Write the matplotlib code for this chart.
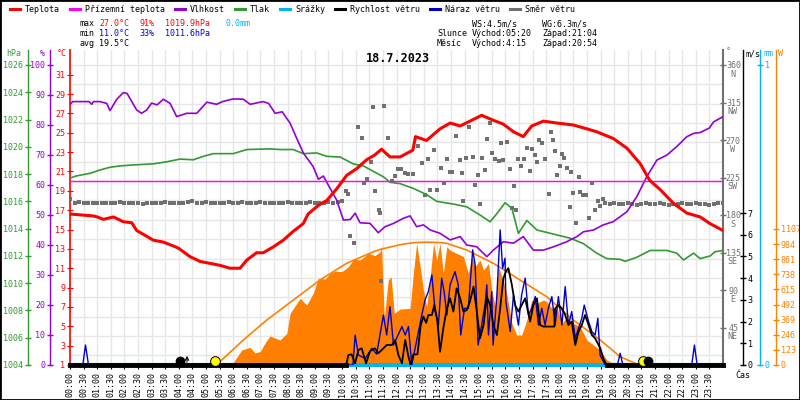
import numpy as np
import matplotlib
matplotlib.use('Agg')
import matplotlib.pyplot as plt
import matplotlib.transforms as mtransforms
from matplotlib.lines import Line2D
from matplotlib.patches import Rectangle

plt.rcParams['font.family'] = ['DejaVu Sans Mono']
plt.rcParams['font.size'] = 6

# ---- data (time in hours) ----
t_h = [0, 0.86, 1.0, 1.23, 1.6, 1.96, 2.27, 2.45, 2.82, 3.06, 3.43, 3.8, 4.0, 4.41, 4.78, 5.15,
       5.51, 5.88, 6.25, 6.5, 6.86, 7.1, 7.47, 7.84, 8.2, 8.57, 8.75, 9.13, 9.44, 9.8, 10.17,
       10.54, 10.9, 11.2, 11.45, 11.76, 12.13, 12.6, 12.7, 13.1, 13.6, 13.97, 14.34, 14.7, 15.13,
       15.55, 15.92, 16.3, 16.66, 16.97, 17.4, 17.9, 18.5, 19.0, 19.36, 19.97, 20.47, 20.96,
       21.3, 21.7, 22.18, 22.67, 23.16, 23.53, 24.0]
temp = [16.6, 16.4, 16.3, 16.05, 16.3, 15.8, 15.7, 14.9, 14.3, 13.9, 13.7, 13.3, 13.05, 12.2,
        11.7, 11.5, 11.3, 11.0, 11.0, 11.85, 12.6, 12.6, 13.2, 13.9, 14.8, 15.6, 16.6, 17.5,
        18.0, 19.2, 20.6, 21.3, 22.2, 22.7, 23.3, 22.5, 22.5, 23.2, 24.6, 24.2, 25.4, 26.0,
        25.7, 26.2, 26.8, 26.3, 25.9, 25.1, 24.6, 25.7, 26.2, 26.0, 25.8, 25.4, 25.1, 24.4,
        23.4, 21.8, 20.1, 19.1, 17.7, 16.7, 16.3, 15.6, 14.9]

tg_h = [0, 24]
tg = [20.0, 20.0]

rh_h = [0, 0.1, 0.7, 0.8, 0.86, 1.1, 1.35, 1.47, 1.72, 1.96, 2.1, 2.45, 2.63, 2.82, 3.0, 3.2,
        3.43, 3.68, 3.92, 4.29, 4.66, 5.03, 5.39, 5.6, 6.0, 6.37, 6.62, 7.1, 7.3, 7.54, 7.8,
        8.09, 8.33, 8.58, 8.94, 9.13, 9.31, 9.56, 9.8, 10.05, 10.3, 10.48, 10.66, 11.03, 11.33,
        11.58, 11.89, 12.25, 12.5, 12.74, 12.99, 13.24, 13.6, 13.97, 14.34, 14.58, 14.95,
        15.32, 15.56, 15.93, 16.3, 16.66, 17.03, 17.4, 17.77, 18.26, 18.63, 18.87, 19.24,
        19.6, 19.97, 20.47, 20.83, 21.2, 21.57, 21.94, 22.3, 22.67, 22.92, 23.16, 23.5,
        23.65, 24.0]
rh = [86.9, 87.8, 87.8, 86.9, 87.8, 87.8, 87.2, 84.8, 88.6, 90.8, 90.5, 85.0, 83.9, 85.0,
      87.3, 86.7, 88.6, 87.2, 82.8, 83.9, 83.9, 87.6, 86.9, 87.8, 88.7, 88.6, 86.9, 87.8,
      87.2, 83.9, 84.4, 80.6, 75.6, 70.6, 66.1, 61.9, 63.0, 58.9, 55.0, 48.3, 48.5, 50.6,
      47.4, 47.2, 44.1, 46.1, 47.2, 48.9, 49.7, 46.1, 46.7, 45.0, 43.9, 41.7, 42.8, 40.0,
      39.4, 36.1, 38.3, 41.1, 40.6, 42.8, 38.3, 38.3, 39.4, 41.1, 42.8, 44.4, 45.0, 46.7,
      47.8, 51.1, 56.1, 62.8, 68.3, 70.0, 72.8, 76.1, 77.2, 77.5, 79.0, 81.0, 82.8]

p_h = [0, 0.2, 0.74, 1.1, 1.47, 1.84, 2.33, 3.06, 3.55, 4.04, 4.53, 4.9, 5.27, 6.0, 6.5, 7.35,
       7.72, 8.2, 8.58, 9.07, 9.44, 9.93, 10.17, 10.42, 10.78, 11.15, 11.52, 11.76, 12.13,
       12.62, 13.1, 13.48, 14.09, 14.58, 15.07, 15.44, 15.69, 15.99, 16.24, 16.48, 16.79,
       17.16, 17.77, 18.38, 18.87, 19.36, 19.73, 20.22, 20.4, 20.83, 21.32, 21.94, 22.3,
       22.55, 22.92, 23.16, 23.53, 23.7, 24.0]
pres = [1017.7, 1017.85, 1018.06, 1018.3, 1018.5, 1018.6, 1018.67, 1018.75, 1018.9, 1019.1,
        1019.05, 1019.3, 1019.5, 1019.5, 1019.8, 1019.85, 1019.8, 1019.8, 1019.5, 1019.55,
        1019.3, 1019.25, 1019.0, 1018.74, 1018.6, 1018.2, 1017.8, 1017.4, 1017.3, 1016.95,
        1016.5, 1016.0, 1015.8, 1015.6, 1015.0, 1014.5, 1015.1, 1015.9, 1015.5, 1013.65,
        1014.6, 1013.9, 1013.6, 1013.3, 1012.9, 1012.2, 1011.8, 1011.75, 1011.6, 1011.9,
        1012.4, 1012.4, 1012.2, 1011.7, 1012.2, 1011.8, 1012.0, 1012.3, 1012.4]

# wind direction: calm steady parts every 10 min, scattered part in the afternoon
dir_am = [199, 194, 196, 195, 195, 194, 195, 195, 194, 195, 195, 196, 194, 195, 195, 194,
          193, 195, 195, 194, 195, 196, 195, 194, 195, 195, 196, 197, 195, 195, 196, 195,
          195, 194, 195, 196, 195, 195, 196, 195, 194, 195, 196, 195, 195, 194, 195, 195,
          196, 195, 195, 194, 195, 196, 195, 195, 195, 196, 195, 196, 197]
dir_pm = [194, 193, 194, 193, 193, 194, 193, 192, 193, 194, 193, 193, 194, 193, 192, 193,
          193, 194, 193, 193, 194, 193, 193, 192, 193, 194, 195]
sc_h = [10.15, 10.2, 10.3, 10.42, 10.57, 10.73, 10.8, 10.93, 11.07, 11.13, 11.2, 11.34, 11.4,
        11.43, 11.54, 11.7, 11.83, 11.95, 12.07, 12.16, 12.3, 12.44, 12.62, 12.8, 12.93,
        13.05, 13.17, 13.24, 13.36, 13.48, 13.64, 13.75, 13.85, 13.95, 14.05, 14.19, 14.34,
        14.4, 14.46, 14.56, 14.68, 14.8, 14.89, 14.99, 15.07, 15.13, 15.26, 15.34, 15.42,
        15.5, 15.63, 15.75, 15.83, 15.93, 16.05, 16.18, 16.24, 16.32, 16.39, 16.48, 16.57,
        16.67, 16.79, 16.89, 16.97, 17.1, 17.16, 17.22, 17.34, 17.44, 17.59, 17.67, 17.75,
        17.83, 17.89, 18.01, 18.08, 18.14, 18.26, 18.36, 18.41, 18.48, 18.6, 18.69, 18.75,
        18.87, 18.95, 19.08, 19.19, 19.3, 19.4, 19.49, 19.6]
sc_dir = [209, 205, 155, 147, 286, 272, 218, 223, 244, 310, 209, 186, 182, 101, 311, 273,
          221, 227, 235, 235, 230, 229, 229, 263, 242, 204, 247, 210, 258, 210, 236, 218,
          247, 232, 232, 275, 246, 230, 197, 248, 286, 250, 216, 228, 193, 249, 234, 271,
          291, 254, 247, 245, 267, 246, 268, 235, 189, 215, 186, 247, 239, 247, 260, 233,
          259, 252, 244, 270, 266, 247, 205, 280, 270, 257, 228, 239, 253, 249, 237, 190,
          232, 207, 171, 226, 208, 204, 204, 177, 218, 186, 197, 191, 199]

sr_h = [5.94, 6.31, 6.62, 6.8, 6.99, 7.2, 7.35, 7.72, 7.97, 8.09, 8.46, 8.7, 8.94, 9.13,
        9.38, 9.56, 9.74, 9.99, 10.23, 10.42, 10.66, 10.97, 11.21, 11.4, 11.45, 11.55, 11.7,
        11.8, 11.92, 12.13, 12.5, 12.62, 12.74, 12.87, 12.99, 13.11, 13.24, 13.36, 13.48,
        13.6, 13.72, 13.85, 13.97, 14.21, 14.46, 14.64, 14.77, 14.89, 15.07, 15.2, 15.38,
        15.5, 15.63, 15.75, 15.87, 16.05, 16.24, 16.42, 16.6, 16.79, 16.97, 17.16, 17.4,
        17.53, 17.71, 17.89, 18.08, 18.26, 18.5, 18.75, 19.0, 19.24, 19.49, 19.73, 19.97,
        20.22]
solar = [0, 122, 144, 98, 110, 190, 236, 203, 258, 421, 543, 488, 584, 706, 700, 746, 765,
         760, 800, 860, 855, 909, 890, 922, 970, 380, 692, 719, 421, 455, 461, 746, 990, 800,
         610, 474, 719, 990, 855, 990, 746, 963, 935, 909, 882, 746, 882, 800, 855, 773, 827,
         610, 474, 800, 719, 583, 339, 244, 244, 366, 529, 502, 529, 515, 461, 474, 339, 393,
         339, 312, 203, 163, 122, 41, 14, 0]

cs_h = [5.33, 5.51, 6.37, 7.23, 8.21, 9.19, 10.17, 11.15, 11.4, 12.13, 12.62, 13.1, 13.6,
        13.85, 14.58, 15.56, 16.54, 17.52, 18.5, 19.49, 20.22, 20.83, 21.07]
clear_sky = [0, 27, 203, 366, 529, 692, 828, 922, 941, 979, 996, 1000, 996, 990, 936, 828,
             692, 556, 366, 203, 68, 8, 0]

ws_h = [0, 10.15, 10.23, 10.35, 10.48, 10.6, 10.72, 10.88, 11.03, 11.21, 11.33, 11.52, 11.64,
        11.83, 11.95, 12.07, 12.2, 12.32, 12.44, 12.52, 12.62, 12.77, 12.89, 12.99, 13.09,
        13.17, 13.3, 13.39, 13.5, 13.6, 13.72, 13.85, 13.97, 14.09, 14.21, 14.34, 14.46,
        14.58, 14.7, 14.83, 14.95, 15.07, 15.2, 15.32, 15.44, 15.56, 15.69, 15.81, 15.93,
        16.02, 16.11, 16.24, 16.36, 16.48, 16.6, 16.73, 16.91, 17.03, 17.16, 17.28, 17.4,
        17.6, 17.8, 17.83, 17.95, 18.08, 18.2, 18.32, 18.44, 18.57, 18.69, 18.81, 18.93,
        19.06, 19.18, 19.3, 19.49, 19.6, 19.73, 24.0]
wind = [0, 0, 0.46, 0.49, 0.08, 0.69, 0.77, 0.08, 0.64, 0.77, 0.54, 0.77, 0.92, 0.92, 1.15,
        0.46, 0.08, 1.15, 0.38, 0, 0.49, 0.49, 1.84, 2.23, 1.94, 2.3, 2.3, 2.76, 2.07, 0.61,
        1.69, 2.61, 3.07, 2.46, 3.53, 3.07, 2.46, 2.53, 2.92, 3.61, 2.46, 1.23, 1.84, 3.15,
        2.76, 1.84, 1.38, 2.61, 4.0, 4.3, 4.46, 3.69, 2.76, 2.46, 2.76, 3.07, 2.0, 2.76, 3.07,
        1.84, 1.77, 1.77, 1.77, 2.6, 2.76, 2.6, 2.3, 1.84, 2.0, 0.92, 1.54, 1.84, 2.3, 1.84,
        1.38, 1.23, 0.77, 0.3, 0, 0]

wg_h = [0, 0.47, 0.57, 0.68, 10.4, 10.48, 10.6, 10.85, 11.09, 11.27, 11.52, 11.64, 11.76,
        11.89, 12.2, 12.32, 12.44, 12.56, 12.93, 13.05, 13.17, 13.3, 13.42, 13.54, 13.66,
        13.75, 13.85, 13.97, 14.15, 14.27, 14.36, 14.5, 14.64, 14.8, 14.89, 15.0, 15.13,
        15.26, 15.32, 15.38, 15.5, 15.55, 15.69, 15.81, 15.9, 15.99, 16.02, 16.18, 16.3,
        16.42, 16.48, 16.6, 16.73, 16.85, 16.97, 17.1, 17.22, 17.34, 17.46, 17.58, 17.71,
        17.83, 17.95, 18.08, 18.2, 18.32, 18.44, 18.57, 18.69, 18.81, 18.9, 19.06, 19.18,
        19.3, 19.4, 19.48, 19.67, 20.12, 20.22, 20.32, 22.85, 22.95, 23.05, 24.0]
gust = [0, 0, 0.92, 0, 0, 1.38, 0.46, 0.3, 0.77, 0.5, 2.3, 1.38, 2.69, 0.92, 1.77, 1.38, 1.77,
        0, 2.3, 3.0, 3.38, 4.15, 2.46, 1.84, 4.0, 3.38, 2.3, 3.69, 4.3, 3.69, 1.38, 2.61, 2.61,
        5.3, 4.61, 0.92, 1.84, 2.84, 3.69, 1.38, 3.38, 0.92, 3.23, 6.22, 4.45, 4.92, 2.92,
        1.54, 3.23, 2.3, 1.84, 3.23, 4.0, 2.3, 2.61, 3.15, 1.84, 2.61, 1.84, 2.61, 3.15, 1.84,
        3.15, 1.84, 3.61, 1.84, 2.46, 1.23, 1.69, 2.15, 2.76, 2.0, 1.54, 1.38, 2.15, 0.46, 0,
        0, 0.54, 0, 0, 0.92, 0, 0]

rain_h = [0, 24]
rain = [0.0, 0.0]

sunrise, sunset = 5 + 20/60, 21 + 4/60
moonrise, moonset = 4 + 15/60, 20 + 54/60

compass = ['NE', 'E', 'SE', 'S', 'SW', 'W', 'NW', 'N']

RED, MAG, PUR, GRN, CYA = '#ff0000', '#ff00ff', '#9400d3', '#339933', '#00b4f0'
BLU, GRY, ORA = '#0000cc', '#707070', '#ff8000'

# ---- figure / axes geometry (pixels of an 800x400 image) ----
fig = plt.figure(figsize=(8, 4), dpi=100)
L, R, T, B = 70, 723, 50, 365
ax = fig.add_axes([L/800, 1 - B/400, (R - L)/800, (B - T)/400])
span = (B - T) / 300.0
W_ = R - L


def style_axis(a, side, pos, color, lw=1.0):
    for s in a.spines.values():
        s.set_visible(False)
    sp = a.spines[side]
    sp.set_visible(True)
    sp.set_position(('axes', pos))
    sp.set_color(color)
    sp.set_linewidth(lw)
    if side == 'left':
        a.yaxis.tick_left()
    else:
        a.yaxis.tick_right()
    a.tick_params(axis='y', which='major', colors=color, direction='inout',
                  length=5, width=1, labelsize=6, pad=1)


# temperature axis + grid
ax.set_xlim(0, 24)
ax.set_ylim(1, 1 + 31*span)
ax.set_yticks(range(1, 32, 2))
ax.set_yticks(range(2, 33, 2), minor=True)
ax.tick_params(axis='y', which='minor', length=0)
for s in ['top', 'right']:
    ax.spines[s].set_visible(False)
ax.spines['left'].set_color(RED)
ax.spines['left'].set_linewidth(1.2)
ax.spines['bottom'].set_color('black')
ax.spines['bottom'].set_linewidth(2)
ax.tick_params(axis='y', which='major', colors=RED, direction='inout', length=5, pad=1,
               labelsize=6)
xt = np.arange(0, 24, 0.5)
ax.set_xticks(xt)
ax.set_xticklabels([f"{int(h):02d}:{int(round((h % 1)*60)):02d}" for h in xt],
                   rotation=90)
ax.tick_params(axis='x', direction='out', length=3, labelsize=6, pad=2)
ax.xaxis.grid(True, which='major', color='#e6e6e6', lw=1)
ax.yaxis.grid(True, which='minor', color='#e6e6e6', lw=1)
ax.set_axisbelow(True)

# solar radiation
ax_w = ax.twinx()
style_axis(ax_w, 'right', 1 + 53/W_, ORA)
ax_w.set_ylim(0, 1107*(B - T)/136)
ax_w.set_yticks(range(0, 1108, 123))
ax_w.fill_between(sr_h, solar, color=ORA, lw=0)
ax_w.plot(cs_h, clear_sky, color=ORA, lw=1.2)

# wind direction
ax_d = ax.twinx()
style_axis(ax_d, 'right', 1.0, GRY, lw=1.5)
ax_d.set_ylim(0, 360*span)
dticks = list(range(45, 361, 45))
ax_d.set_yticks(dticks)
ax_d.set_yticklabels([str(v) for v in dticks], ha='center')
ax_d.set_yticks([v - 10 for v in dticks], minor=True)
ax_d.set_yticklabels(compass, minor=True, ha='center')
ax_d.tick_params(axis='y', which='major', pad=5)
ax_d.tick_params(axis='y', which='minor', length=0, pad=7, colors=GRY, labelsize=6)
am_h = np.arange(len(dir_am)) / 6.0
pm_h = 24 - np.arange(len(dir_pm))[::-1] / 6.0
ax_d.plot(am_h, dir_am, 's', ms=3, color=GRY, mew=0)
ax_d.plot(pm_h, dir_pm, 's', ms=3, color=GRY, mew=0)
ax_d.plot(sc_h, sc_dir, 's', ms=3, color=GRY, mew=0)

# pressure
ax_p = ax.twinx()
style_axis(ax_p, 'left', -42/W_, GRN)
ax_p.set_ylim(1004, 1004 + 22*span)
ax_p.set_yticks(range(1004, 1027, 2))
ax_p.plot(p_h, pres, color=GRN, lw=1.2)

# humidity
ax_h = ax.twinx()
style_axis(ax_h, 'left', -20/W_, PUR)
ax_h.set_ylim(0, 100*span)
ax_h.set_yticks(range(0, 101, 10))
ax_h.plot(rh_h, rh, color=PUR, lw=1.2)

# rain
ax_r = ax.twinx()
style_axis(ax_r, 'right', 1 + 37/W_, CYA)
ax_r.set_ylim(0, span)
ax_r.set_yticks([0, 1])
ax_r.plot(rain_h, rain, color=CYA, lw=3, clip_on=False)

# temperature lines
ax_t = ax.twinx()
for s in ax_t.spines.values():
    s.set_visible(False)
ax_t.yaxis.set_visible(False)
ax_t.set_ylim(ax.get_ylim())
ax_t.plot(tg_h, tg, color=MAG, lw=1)
ax_t.plot(t_h, temp, color=RED, lw=2.2)

# wind speed and gusts
ax_s = ax.twinx()
style_axis(ax_s, 'right', 1 + 20/W_, 'black')
ax_s.set_ylim(0, 7*(B - T)/152)
ax_s.set_yticks(range(0, 8))
ax_s.plot(wg_h, gust, color=BLU, lw=1)
ax_s.plot(ws_h, wind, color='black', lw=1.3)
calm = np.ma.masked_where(np.array(wind) > 0, wind)
ax_s.plot(ws_h, calm, color='black', lw=3.5, clip_on=False)

# sun and moon symbols on the base line
tr = mtransforms.blended_transform_factory(ax_s.transData, ax_s.transAxes)
yb = 4/(B - T)
ax_s.plot([sunrise, sunset], [yb, yb], 'o', ms=7, mfc='#ffff00', mec='black', mew=0.7,
          transform=tr, clip_on=False, zorder=6)
ax_s.plot([moonrise - 0.2, moonset + 0.33], [yb, yb], 'o', ms=6, color='black',
          transform=tr, clip_on=False, zorder=7)
ax_s.annotate('', xy=(moonrise + 0.05, 12/(B - T)), xytext=(moonrise + 0.05, 0),
              xycoords=tr, textcoords=tr, arrowprops=dict(arrowstyle='->', lw=0.8))

# ---- texts ----
def ftxt(x, y, s, color='black', **kw):
    kw.setdefault('fontsize', 6)
    kw.setdefault('ha', 'left')
    fig.text(x/800, 1 - y/400, s, color=color, va='center', **kw)


legend = [('Teplota', RED, 10), ('Přízemní teplota', MAG, 70), ('Vlhkost', PUR, 175),
          ('Tlak', GRN, 235), ('Srážky', CYA, 280), ('Rychlost větru', 'black', 335),
          ('Náraz větru', BLU, 430), ('Směr větru', GRY, 510)]
for name, col, x0 in legend:
    fig.add_artist(Line2D([x0/800, (x0 + 10)/800], [1 - 9/400]*2, color=col, lw=2.2))
    ftxt(x0 + 15, 9, name)

ftxt(80, 24, 'max')
ftxt(99, 24, '27.0°C', RED)
ftxt(139, 24, '91%', RED)
ftxt(165, 24, '1019.9hPa', RED)
ftxt(225, 24, '0.0mm', CYA)
ftxt(80, 34, 'min')
ftxt(99, 34, '11.0°C', BLU)
ftxt(139, 34, '33%', BLU)
ftxt(165, 34, '1011.6hPa', BLU)
ftxt(80, 44, 'avg')
ftxt(99, 44, '19.5°C')

ftxt(472, 24, 'WS:4.5m/s')
ftxt(542, 24, 'WG:6.3m/s')
ftxt(437, 34, 'Slunce')
ftxt(472, 34, 'Východ:05:20')
ftxt(542, 34, 'Západ:21:04')
ftxt(437, 44, 'Měsíc')
ftxt(472, 44, 'Východ:4:15')
ftxt(542, 44, 'Západ:20:54')

ftxt(398, 58, '18.7.2023', ha='center', fontsize=8.5, fontweight='bold')

ftxt(6, 54, 'hPa', GRN)
ftxt(40, 54, '%', PUR)
ftxt(57, 54, '°C', RED)
ftxt(726, 52, '°', GRY)
ftxt(745, 54, 'm/s')
ftxt(763, 54, 'mm', CYA)
ftxt(778, 54, 'W', ORA)
ftxt(735, 375, 'Čas')

fig.add_artist(Rectangle((0, 0), 1, 1, transform=fig.transFigure, fill=False,
                         ec='black', lw=2))

fig.savefig('out.png', dpi=100)
